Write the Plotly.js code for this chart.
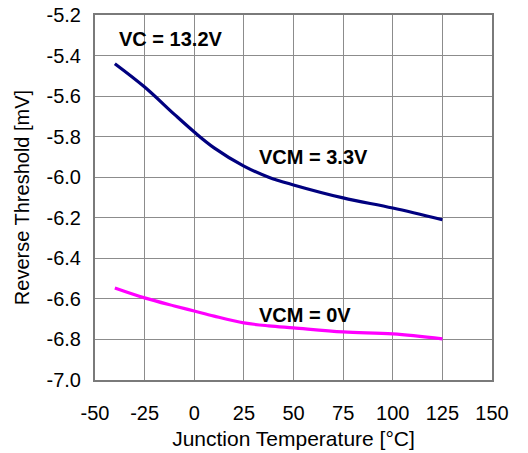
<!DOCTYPE html>
<html>
<head>
<meta charset="utf-8">
<script src="https://cdn.plot.ly/plotly-3.0.1.min.js"></script>
<style>html,body{margin:0;padding:0;background:#fff}#chart{width:528px;height:453px}</style>
</head>
<body>
<div id="chart"></div>
<script>
const temperature = [-40, -25, -10, 0, 10, 25, 37.5, 50, 75, 100, 125];
const vcm33 = [-5.44, -5.555, -5.69, -5.777, -5.855, -5.945, -6.0, -6.038, -6.102, -6.152, -6.21];
const temperature0 = [-40, -25, -10, 0, 10, 25, 37.5, 50, 75, 100, 125];
const vcm0 = [-6.546, -6.595, -6.635, -6.66, -6.685, -6.718, -6.733, -6.743, -6.763, -6.773, -6.797];
const xTicks = [-50, -25, 0, 25, 50, 75, 100, 125, 150];
const yTicks = [-5.2, -5.4, -5.6, -5.8, -6.0, -6.2, -6.4, -6.6, -6.8, -7.0];
const yTickText = yTicks.map(v => v.toFixed(1));
const labels = [
  {text: 'VC = 13.2V', x: -39, y: -5.318},
  {text: 'VCM = 3.3V', x: 31.5, y: -5.90},
  {text: 'VCM = 0V', x: 31.5, y: -6.68}
];

const font = 'Arial, "Liberation Sans", sans-serif';
const data = [
  {x: temperature, y: vcm33, mode: 'lines', line: {color: '#00007f', width: 3.2, shape: 'spline', smoothing: 1}, hoverinfo: 'none'},
  {x: temperature0, y: vcm0, mode: 'lines', line: {color: '#ff00ff', width: 3.2, shape: 'spline', smoothing: 1}, hoverinfo: 'none'}
];
const layout = {
  width: 528, height: 453,
  margin: {l: 95, r: 36, t: 15, b: 73},
  paper_bgcolor: '#fff', plot_bgcolor: '#fff',
  showlegend: false,
  font: {family: font, size: 20, color: '#000'},
  xaxis: {
    range: [-50, 150], tickvals: xTicks, ticktext: xTicks.map(String),
    showgrid: true, gridcolor: '#8c8c8c', gridwidth: 1, zeroline: false,
    showline: true, mirror: true, linecolor: '#7a7a7a', linewidth: 2,
    ticks: '', ticklabelstandoff: 14,
    tickfont: {family: font, size: 20, color: '#000'},
    title: {text: 'Junction Temperature [°C]', font: {family: font, size: 21, color: '#000'}, standoff: 8}
  },
  yaxis: {
    range: [-7.0, -5.2], tickvals: yTicks, ticktext: yTickText,
    showgrid: true, gridcolor: '#8c8c8c', gridwidth: 1, zeroline: false,
    showline: true, mirror: true, linecolor: '#7a7a7a', linewidth: 2,
    ticks: '', ticklabelstandoff: 8,
    tickfont: {family: font, size: 20, color: '#000'},
    title: {text: 'Reverse Threshold [mV]', font: {family: font, size: 20, color: '#000'}, standoff: 12}
  },
  annotations: labels.map(l => ({
    text: '<b>' + l.text + '</b>', x: l.x, y: l.y, xref: 'x', yref: 'y',
    xanchor: 'left', yanchor: 'middle', showarrow: false,
    font: {family: font, size: 20, color: '#000'}
  }))
};
Plotly.newPlot('chart', data, layout, {staticPlot: true});
</script>
</body>
</html>
